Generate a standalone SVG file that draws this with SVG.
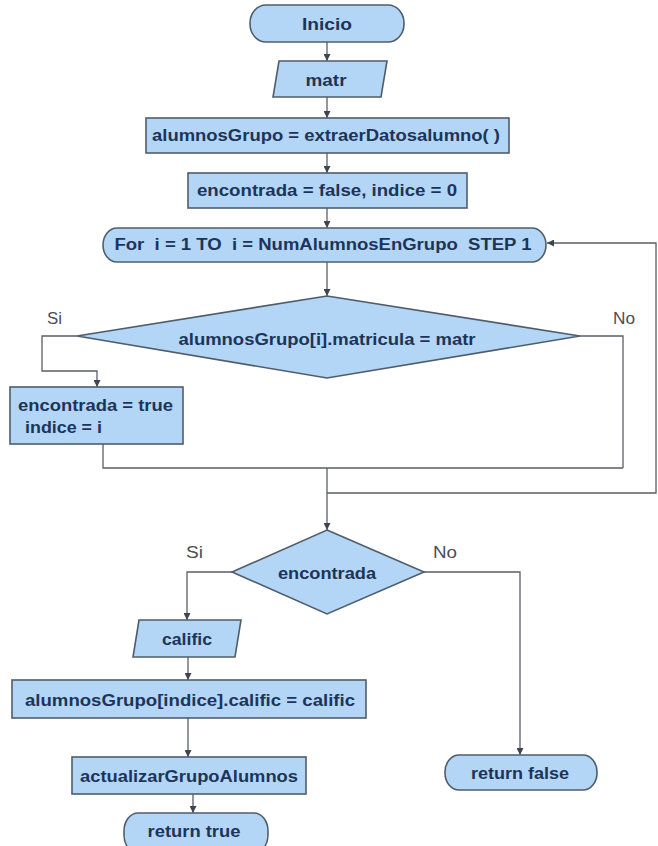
<svg xmlns="http://www.w3.org/2000/svg" width="658" height="846" viewBox="0 0 658 846">
  <defs>
    <marker id="arrow" viewBox="0 0 8 8" refX="8" refY="4" markerWidth="7" markerHeight="7" markerUnits="userSpaceOnUse" orient="auto">
      <path d="M0,0 L8,4 L0,8 z" fill="#3d4650"/>
    </marker>
    <style>
      .shape { fill: #b3d6f6; stroke: #4f5d6b; stroke-width: 1.6; }
      .txt { font-family: "Liberation Sans", Arial, sans-serif; font-size: 16px; font-weight: bold; fill: #1d3459; text-anchor: middle; dominant-baseline: central; white-space: pre; }
      .txtl { font-family: "Liberation Sans", Arial, sans-serif; font-size: 16px; font-weight: bold; fill: #1d3459; dominant-baseline: central; white-space: pre; }
      .lbl { font-family: "Liberation Sans", Arial, sans-serif; font-size: 16px; fill: #4a4f55; dominant-baseline: central; }
      .conn { fill: none; stroke: #5a5f66; stroke-width: 1.3; }
    </style>
  </defs>
  <rect width="658" height="846" fill="#ffffff"/>

  <!-- connectors -->
  <g id="connectors">
    <path class="conn" d="M327,42 V61" marker-end="url(#arrow)"/>
    <path class="conn" d="M327,97 V118" marker-end="url(#arrow)"/>
    <path class="conn" d="M327,153 V173" marker-end="url(#arrow)"/>
    <path class="conn" d="M327,208 V228" marker-end="url(#arrow)"/>
    <path class="conn" d="M327,262 V296" marker-end="url(#arrow)"/>
    <!-- yes branch of loop condition -->
    <path class="conn" d="M77,336 H42 V371 H97 V387" marker-end="url(#arrow)"/>
    <!-- no branch of loop condition -->
    <path class="conn" d="M580,336 H623 V468"/>
    <!-- merge line -->
    <path class="conn" d="M103,444 V468 H623"/>
    <path class="conn" d="M327,468 V530" marker-end="url(#arrow)"/>
    <!-- loop back to For -->
    <path class="conn" d="M327,493 H656 V243 H547" marker-end="url(#arrow)"/>
    <!-- second decision -->
    <path class="conn" d="M232,572 H187 V620" marker-end="url(#arrow)"/>
    <path class="conn" d="M424,572 H520 V755" marker-end="url(#arrow)"/>
    <path class="conn" d="M188,657 V680" marker-end="url(#arrow)"/>
    <path class="conn" d="M188,718 V757" marker-end="url(#arrow)"/>
    <path class="conn" d="M193,794 V813" marker-end="url(#arrow)"/>
  </g>

  <g id="inicio">
    <rect class="shape" x="250" y="5" width="154" height="37" rx="16" ry="18"/>
    <text class="txt" x="327" y="24" textLength="50" lengthAdjust="spacingAndGlyphs">Inicio</text>
  </g>

  <g id="leer-matr">
    <polygon class="shape" points="279,61 387,61 381,97 273,97"/>
    <text class="txt" x="326" y="80" textLength="41" lengthAdjust="spacingAndGlyphs">matr</text>
  </g>

  <g id="extraer-datos">
    <rect class="shape" x="146" y="118" width="363" height="35"/>
    <text class="txt" x="326" y="135" textLength="348" lengthAdjust="spacingAndGlyphs">alumnosGrupo = extraerDatosalumno( )</text>
  </g>

  <g id="inicializar">
    <rect class="shape" x="188" y="173" width="279" height="35"/>
    <text class="txt" x="327" y="190" textLength="260" lengthAdjust="spacingAndGlyphs">encontrada = false, indice = 0</text>
  </g>

  <g id="ciclo-for">
    <rect class="shape" x="103" y="228" width="443" height="34" rx="14" ry="17"/>
    <text class="txt" x="323" y="244" textLength="417" lengthAdjust="spacingAndGlyphs" xml:space="preserve">For  i = 1 TO  i = NumAlumnosEnGrupo  STEP 1</text>
  </g>

  <g id="comparar-matricula">
    <polygon class="shape" points="327,296 580,336 327,378 77,336"/>
    <text class="txt" x="327" y="339" textLength="297" lengthAdjust="spacingAndGlyphs">alumnosGrupo[i].matricula = matr</text>
    <text class="lbl" x="47" y="318" textLength="15" lengthAdjust="spacingAndGlyphs">Si</text>
    <text class="lbl" x="613" y="318" textLength="22" lengthAdjust="spacingAndGlyphs">No</text>
  </g>

  <g id="marcar-encontrada">
    <rect class="shape" x="10" y="387" width="173" height="57"/>
    <text class="txtl" x="18" y="405" textLength="155" lengthAdjust="spacingAndGlyphs">encontrada = true</text>
    <text class="txtl" x="25" y="427" textLength="77" lengthAdjust="spacingAndGlyphs">indice = i</text>
  </g>

  <g id="encontrada">
    <polygon class="shape" points="327,530 424,572 327,614 232,572"/>
    <text class="txt" x="327" y="573" textLength="98" lengthAdjust="spacingAndGlyphs">encontrada</text>
    <text class="lbl" x="186" y="552" textLength="17" lengthAdjust="spacingAndGlyphs">Si</text>
    <text class="lbl" x="433" y="552" textLength="24" lengthAdjust="spacingAndGlyphs">No</text>
  </g>

  <g id="leer-calific">
    <polygon class="shape" points="139,620 241,620 235,657 133,657"/>
    <text class="txt" x="187" y="639" textLength="50" lengthAdjust="spacingAndGlyphs">calific</text>
  </g>

  <g id="asignar-calific">
    <rect class="shape" x="12" y="680" width="354" height="38"/>
    <text class="txt" x="190" y="700" textLength="330" lengthAdjust="spacingAndGlyphs">alumnosGrupo[indice].calific = calific</text>
  </g>

  <g id="actualizar">
    <rect class="shape" x="72" y="757" width="234" height="37"/>
    <text class="txt" x="189" y="776" textLength="218" lengthAdjust="spacingAndGlyphs">actualizarGrupoAlumnos</text>
  </g>

  <g id="return-true">
    <rect class="shape" x="124" y="813" width="144" height="40" rx="14" ry="18"/>
    <text class="txt" x="194" y="831" textLength="93" lengthAdjust="spacingAndGlyphs">return true</text>
  </g>

  <g id="return-false">
    <rect class="shape" x="445" y="755" width="152" height="35" rx="14" ry="17"/>
    <text class="txt" x="520" y="773" textLength="98" lengthAdjust="spacingAndGlyphs">return false</text>
  </g>
</svg>
